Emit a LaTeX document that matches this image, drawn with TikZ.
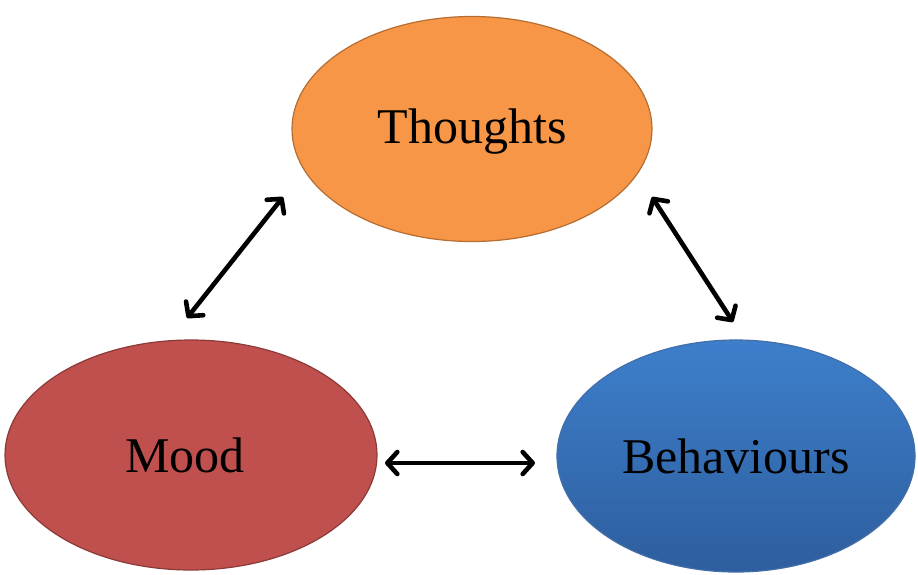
\documentclass[tikz,border=0pt]{standalone}
\usepackage{fontspec}
\setmainfont{Liberation Serif}
\usetikzlibrary{shapes.geometric,arrows.meta}
\definecolor{thfill}{HTML}{F79646}
\definecolor{thdraw}{HTML}{B66D31}
\definecolor{mofill}{HTML}{C0504D}
\definecolor{modraw}{HTML}{8C3A38}
\definecolor{betop}{HTML}{3D7FCB}
\definecolor{bebot}{HTML}{2E5E9E}
\begin{document}
\begin{tikzpicture}[x=1pt,y=-1pt,
  blob/.style={ellipse,inner sep=0pt,line width=1.2pt,font=\fontsize{50}{60}\selectfont,text=black},
  link/.style={line width=4.6pt,line cap=round,{Straight Barb[length=10pt,width=22pt,line width=4.6pt,round]}-{Straight Barb[length=10pt,width=22pt,line width=4.6pt,round]}}]
\useasboundingbox (0,0) rectangle (918,574);
\node[blob,fill=thfill,draw=thdraw,minimum width=360pt,minimum height=225pt] (thoughts) at (472,129) {};
\node at ([yshift=-3pt]thoughts.center) [font=\fontsize{50}{60}\selectfont] (thtext) {Thoughts};
\node[blob,fill=mofill,draw=modraw,minimum width=372pt,minimum height=230pt] (mood) at (191,455) {};
\node at ([xshift=-6pt]mood.center) [font=\fontsize{50}{60}\selectfont] (motext) {Mood};
\node[blob,top color=betop,bottom color=bebot,draw=bebot!90!white,minimum width=358pt,minimum height=232pt] (beh) at (736,456) {};
\node at (beh.center) [font=\fontsize{50}{60}\selectfont] (betext) {Behaviours};
\coordinate (a1) at (187,318);
\coordinate (a2) at (283,197);
\coordinate (b1) at (652,197);
\coordinate (b2) at (733,322);
\coordinate (c1) at (385,463);
\coordinate (c2) at (535,463);
\draw[link] (a1) -- (a2);
\draw[link] (b1) -- (b2);
\draw[link] (c1) -- (c2);
\end{tikzpicture}
\end{document}
